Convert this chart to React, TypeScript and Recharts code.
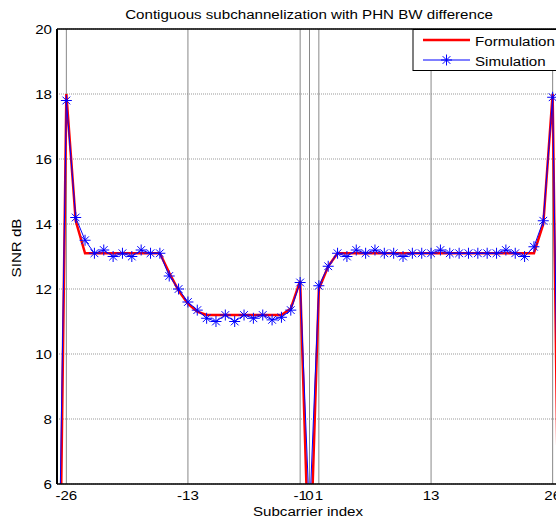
import { CartesianGrid, Line, LineChart, ReferenceLine, XAxis, YAxis } from 'recharts';

const subcarriers = [
  -27, -26, -25, -24, -23, -22, -21, -20, -19, -18, -17, -16, -15, -14, -13, -12, -11, -10, -9, -8, -7, -6, -5, -4, -3, -2, -1,
  0, 1, 2, 3, 4, 5, 6, 7, 8, 9, 10, 11, 12, 13, 14, 15, 16, 17, 18, 19, 20, 21, 22, 23, 24, 25, 26, 27,
];
const formulation = [
  -4, 18.0, 14.1, 13.1, 13.1, 13.1, 13.1, 13.1, 13.1, 13.1, 13.1, 13.1, 12.5, 11.95, 11.55, 11.3, 11.2, 11.2, 11.2, 11.2, 11.2,
  11.2, 11.2, 11.2, 11.2, 11.4, 12.25, 2.9, 12.0, 12.7, 13.1, 13.1, 13.1, 13.1, 13.1, 13.1, 13.1, 13.1, 13.1, 13.1, 13.1, 13.1,
  13.1, 13.1, 13.1, 13.1, 13.1, 13.1, 13.1, 13.1, 13.1, 13.1, 14.0, 18.0, -4,
];
const simulation = [
  -0.6, 17.8, 14.2, 13.5, 13.1, 13.2, 13.0, 13.1, 13.0, 13.2, 13.1, 13.1, 12.4, 12.0, 11.6, 11.35, 11.1, 11.0, 11.2, 11.0, 11.2,
  11.1, 11.2, 11.05, 11.13, 11.35, 12.2, 5.0, 12.1, 12.7, 13.1, 13.0, 13.2, 13.1, 13.2, 13.1, 13.1, 13.0, 13.1, 13.1, 13.1, 13.2,
  13.1, 13.1, 13.1, 13.1, 13.1, 13.1, 13.2, 13.1, 13.0, 13.3, 14.1, 17.9, -0.6,
];
const xTicks = [-26, -13, -1, 0, 1, 13, 26];
const yTicks = [6, 8, 10, 12, 14, 16, 18, 20];

const data = subcarriers.map((sc, i) => ({ sc, formulation: formulation[i], simulation: simulation[i] }));

const FONT = '"Liberation Sans", Arial, sans-serif';
const FS = 13.5;
const SX = 1.12;

// matlab-style '*' marker
function Star(props: any) {
  const { cx, cy, index, payload } = props;
  if (cx == null || cy == null || payload.simulation < 6 || payload.simulation > 20) return <g key={`s${index}`} />;
  const r = 5.5;
  const d = r * 0.7;
  return (
    <g key={`s${index}`} stroke="#0000ff" strokeWidth={1}>
      <line x1={cx - r} y1={cy} x2={cx + r} y2={cy} />
      <line x1={cx} y1={cy - r} x2={cx} y2={cy + r} />
      <line x1={cx - d} y1={cy - d} x2={cx + d} y2={cy + d} />
      <line x1={cx - d} y1={cy + d} x2={cx + d} y2={cy - d} />
    </g>
  );
}

function XTick(props: any) {
  const { x, y, payload } = props;
  return (
    <g transform={`translate(${x},${y + 15.5})`}>
      <text transform={`scale(${SX},1)`} textAnchor="middle" fontSize={FS} fontFamily={FONT} fill="#000">
        {payload.value}
      </text>
    </g>
  );
}

function YTick(props: any) {
  const { x, y, payload } = props;
  return (
    <g transform={`translate(${x - 5},${y + 4.7})`}>
      <text transform={`scale(${SX},1)`} textAnchor="end" fontSize={FS} fontFamily={FONT} fill="#000">
        {payload.value}
      </text>
    </g>
  );
}

function Txt({ x, y, anchor = 'start', rotate = 0, children }: any) {
  return (
    <g transform={`translate(${x},${y}) rotate(${rotate})`}>
      <text transform={`scale(${SX},1)`} textAnchor={anchor} fontSize={FS} fontFamily={FONT} fill="#000">
        {children}
      </text>
    </g>
  );
}

export default function App() {
  return (
    <div style={{ position: 'fixed', left: 0, top: 0, width: 556, height: 519, overflow: 'hidden', background: '#fff' }}>
      <LineChart width={575} height={519} data={data} margin={{ top: 29, right: 13, bottom: 0, left: 0 }}>
        <CartesianGrid vertical={false} stroke="#999" strokeDasharray="1 1" />
        <CartesianGrid horizontal={false} stroke="#888" />
        <XAxis
          dataKey="sc"
          type="number"
          domain={[-27, 27]}
          ticks={xTicks}
          interval={0}
          height={35}
          tickSize={0}
          tickMargin={0}
          tickLine={false}
          tick={<XTick />}
          axisLine={{ stroke: '#000', strokeWidth: 1.5 }}
        />
        <YAxis
          type="number"
          domain={[6, 20]}
          ticks={yTicks}
          allowDataOverflow
          width={57}
          tickSize={0}
          tickMargin={0}
          tickLine={false}
          tick={<YTick />}
          axisLine={{ stroke: '#000', strokeWidth: 2 }}
        />
        <ReferenceLine y={20} stroke="#000" strokeWidth={1.5} />
        <Line
          dataKey="formulation"
          stroke="#ff0000"
          strokeWidth={2.5}
          dot={false}
          activeDot={false}
          isAnimationActive={false}
        />
        <Line
          dataKey="simulation"
          stroke="#0000ff"
          strokeWidth={1}
          dot={Star}
          activeDot={false}
          isAnimationActive={false}
        />
      </LineChart>
      <svg width={556} height={519} style={{ position: 'absolute', left: 0, top: 0, pointerEvents: 'none' }}>
        <Txt x={309} y={18.5} anchor="middle">Contiguous subchannelization with PHN BW difference</Txt>
        <Txt x={308} y={516} anchor="middle">Subcarrier index</Txt>
        <Txt x={21} y={248} anchor="middle" rotate={-90}>SINR dB</Txt>
        <rect x={413} y={29.5} width={160} height={41} fill="#fff" stroke="#000" strokeWidth={1} />
        <line x1={423} y1={40} x2={470} y2={40} stroke="#ff0000" strokeWidth={2.5} />
        <line x1={423} y1={60} x2={470} y2={60} stroke="#0000ff" strokeWidth={1} />
        <Star cx={446.5} cy={60} index={999} payload={{ simulation: 10 }} />
        <Txt x={475} y={45.5}>Formulation</Txt>
        <Txt x={475} y={65.5}>Simulation</Txt>
      </svg>
    </div>
  );
}
